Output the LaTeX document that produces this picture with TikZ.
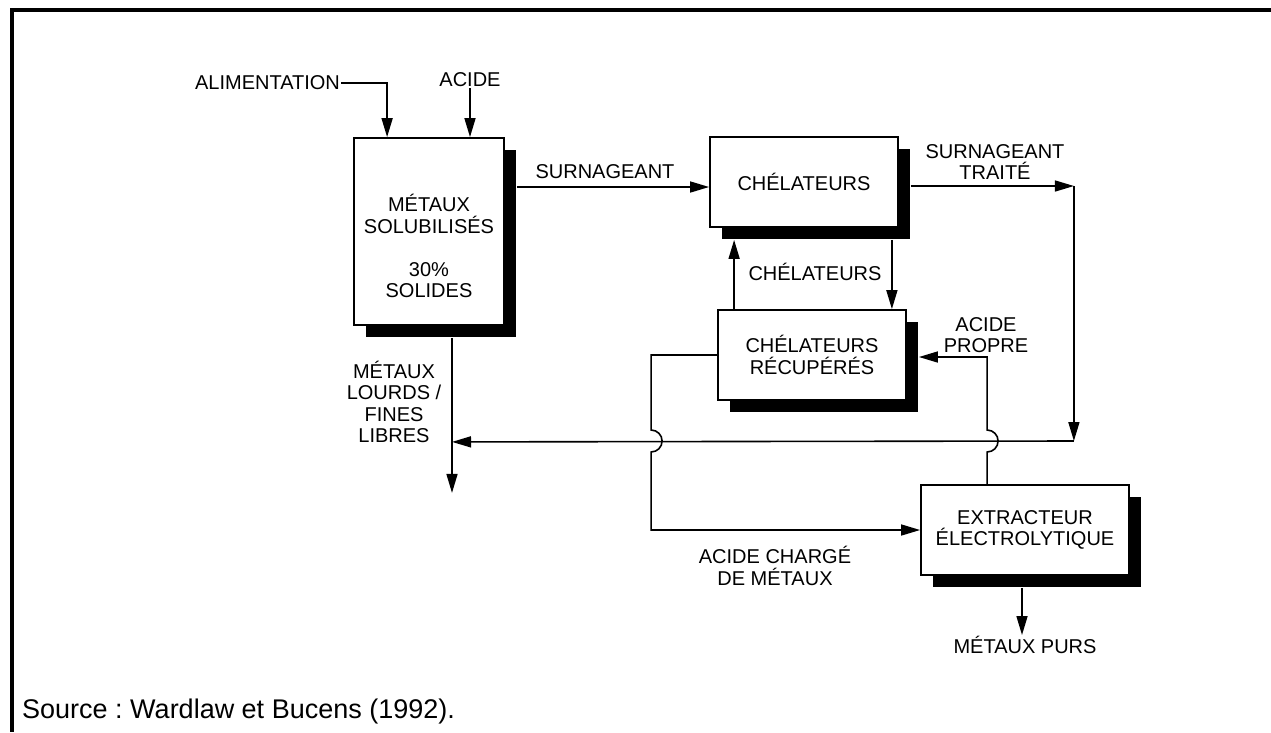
\documentclass[tikz,border=0pt]{standalone}
\usepackage{fontspec}
\setmainfont{Liberation Sans}
\usetikzlibrary{arrows.meta,shadows,calc}
\frenchspacing

\begin{document}
\begin{tikzpicture}[x=1pt,y=-1pt,
  flow/.style={line width=1.6pt, -{Triangle[length=19pt,width=11pt]}},
  unit/.style 2 args={draw, line width=1.8pt, fill=white, inner sep=0pt,
    minimum width=#1, minimum height=#2, align=center,
    font=\fontsize{20}{21.5}\selectfont,
    drop shadow={shadow xshift=12pt, shadow yshift=-12pt, fill=black, opacity=1}},
  lbl/.style={font=\fontsize{20}{21.5}\selectfont, align=center, inner sep=1pt},
]
\path[use as bounding box] (0,0) rectangle (1271,732);

% frame (top and left rules)
\draw[line width=4pt] (1271,10) -- (12,10) -- (12,732);

% process units
\node[unit={150pt}{187pt}] (b1) at (429,231.5) {};
\node[lbl] (b1t) at (429,214) {MÉTAUX\\SOLUBILISÉS};
\node[lbl] (b1s) at (429,280) {30\%\\SOLIDES};
\node[unit={188pt}{90pt}] (b2) at (804,182) {CHÉLATEURS};
\node[unit={188pt}{90pt}] (b3) at (812,355) {CHÉLATEURS\\RÉCUPÉRÉS};
\node[unit={208pt}{90pt}] (b4) at (1025,530) {EXTRACTEUR\\ÉLECTROLYTIQUE};

% stream labels
\node[lbl] (alim) at (267.5,83) {ALIMENTATION};
\node[lbl] (acide) at (470,80) {ACIDE};
\node[lbl] (surn) at (605,172) {SURNAGEANT};
\node[lbl] (trait) at (995,162) {SURNAGEANT\\TRAITÉ};
\node[lbl] (chel) at (815,272) {CHÉLATEURS};
\node[lbl] (propre) at (986,335) {ACIDE\\PROPRE};
\node[lbl] (lourds) at (394,402) {MÉTAUX\\LOURDS /\\FINES\\LIBRES};
\node[lbl] (charge) at (775,566) {ACIDE CHARGÉ\\DE MÉTAUX};
\node[lbl] (purs) at (1025,645) {MÉTAUX PURS};
\node[font=\fontsize{27}{29}\selectfont, anchor=west, inner sep=0pt] (src) at (22,711) {Source : Wardlaw et Bucens (1992).};

% routing points
\coordinate (b1in) at ($(b1.north west)+(34,0)$);
\coordinate (c1) at ($(b2.east)+(175,4)$);
\coordinate (c2) at ($(c1)+(0,255)$);
\coordinate (c3) at ($(b1.south)+(23,116)$);
\coordinate (drain) at ($(b1.south)+(23,167)$);
\coordinate (p0) at ($(b4.north west)+(67,0)$);

% feeds
\draw[flow] (alim.east) -| (b1in);
\draw[flow] (acide.south) -- (acide.south |- b1.north);

% supernatant to chelators
\draw[flow] ($(b1.east |- b2.west)+(12,5)$) -- ($(b2.west)+(0,5)$);

% treated supernatant return
\draw[flow] ($(b2.east)+(12,4)$) -- (c1);
\draw[flow] (c1) -- (c2);
\draw[flow] (c2) -- (c3);

% heavy metals / fines out
\draw[flow] ($(b1.south)+(23,12)$) -- (drain);

% chelator loop
\draw[flow] ($(b2.south east)+(-7,12)$) -- ($(b2.south east |- b3.north)+(-7,0)$);
\draw[flow] ($(b3.north west)+(17,0)$) -- ($(b3.north west |- b2.south)+(17,12)$);

% clean acid back to recovered chelators (hops over the return line)
\draw[flow] (p0) -- ($(p0 |- c2)+(0,11)$) arc[start angle=-90, end angle=90, radius=11pt]
  -- ($(p0 |- b3.east)+(0,2)$) -- ($(b3.east)+(12,2)$);

% metal-laden acid to the electrolytic extractor
\draw[flow] (b3.west) -- ++(-66,0) -- ($(b3.west |- c2)+(-66,-11)$)
  arc[start angle=90, end angle=-90, radius=11pt]
  -- ($(b3.west |- b4.west)+(-66,0)$) -- (b4.west);

% pure metals out
\draw[flow] ($(b4.south)+(-3,12)$) -- ($(b4.south |- purs.north)+(-3,0)$);
\end{tikzpicture}
\end{document}
